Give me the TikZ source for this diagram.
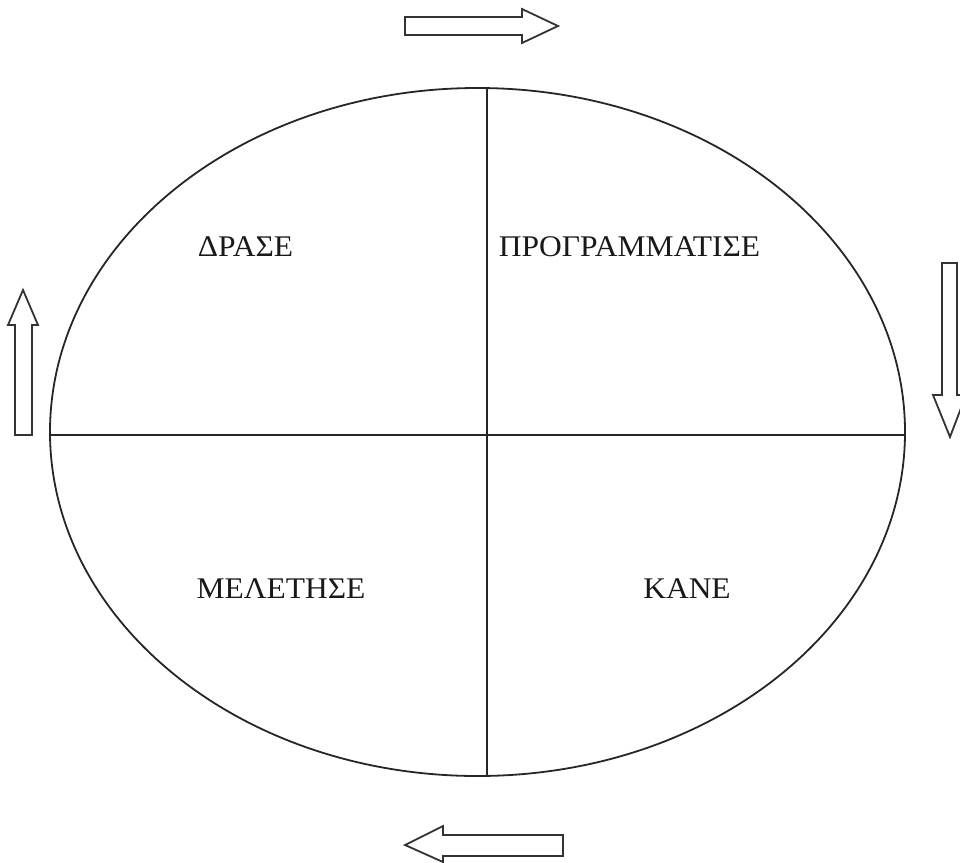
\documentclass[tikz,border=0pt]{standalone}
\usepackage{fontspec}
\setmainfont{Liberation Serif}
\begin{document}
\begin{tikzpicture}[x=1pt,y=-1pt,
  line/.style={line width=1.8pt,black!85},
  blockarrow/.style={line width=1.8pt,black!80,line join=miter,fill=white},
  lbl/.style={font=\fontsize{30}{35}\selectfont,inner sep=0pt,text=black!90,xscale=1.05}]
\useasboundingbox (0,0) rectangle (960,862);
\draw[line] (477.5,432) ellipse [x radius=427.5, y radius=344];
\coordinate (vt) at (487,88.3);
\coordinate (vb) at (487,775.7);
\coordinate (hl) at (50,435);
\coordinate (hr) at (905,435);
\draw[line] (vt) -- (vb);
\draw[line] (hl) -- (hr);
\node[lbl] (drase) at (245.5,246.5) {ΔΡΑΣΕ};
\node[lbl] (prog) at (629.5,246.5) {ΠΡΟΓΡΑΜΜΑΤΙΣΕ};
\node[lbl] (melet) at (281,588.5) {ΜΕΛΕΤΗΣΕ};
\node[lbl] (kane) at (687,588.5) {ΚΑΝΕ};
% top arrow (right)
\draw[blockarrow] (405,17) -- (522,17) -- (522,9) -- (558,26) -- (522,43) -- (522,35) -- (405,35) -- cycle;
% right arrow (down)
\draw[blockarrow] (942,263) -- (957,263) -- (957,395) -- (966,395) -- (950,437) -- (933,395) -- (942,395) -- cycle;
% bottom arrow (left)
\draw[blockarrow] (563,835) -- (443,835) -- (443,826) -- (405,845) -- (443,862) -- (443,856) -- (563,856) -- cycle;
% left arrow (up)
\draw[blockarrow] (15,435) -- (15,325) -- (8,325) -- (23,290) -- (38,325) -- (32,325) -- (32,435) -- cycle;
\end{tikzpicture}
\end{document}
